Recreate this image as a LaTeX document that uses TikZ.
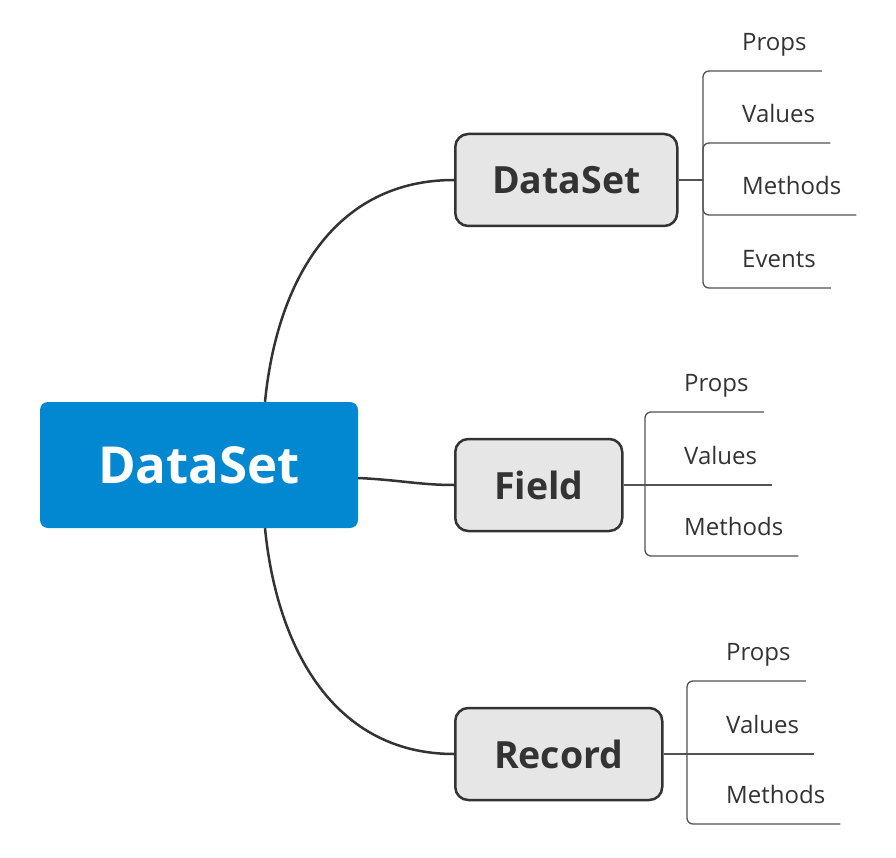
\documentclass[tikz,border=0pt]{standalone}
\usepackage{fontspec}
\setmainfont{Open Sans}
\usetikzlibrary{positioning}
\definecolor{rootblue}{RGB}{2,136,209}
\definecolor{boxgray}{RGB}{230,230,230}
\definecolor{inkgray}{RGB}{51,51,51}
\tikzset{
  root/.style={
    rectangle,rounded corners=8pt,fill=rootblue,text=white,
    minimum width=318pt,minimum height=126pt,
    font=\fontsize{51}{51}\selectfont\bfseries,
  },
  topic/.style={
    rectangle,rounded corners=13pt,draw=inkgray,line width=2.5pt,
    fill=boxgray,text=inkgray,minimum height=92pt,anchor=west,
    font=\fontsize{37.5}{37.5}\selectfont\bfseries,
  },
  leaf/.style={
    anchor=south west,inner xsep=15pt,inner ysep=15pt,
    text depth=5pt,text=inkgray,font=\fontsize{24}{24}\selectfont,
  },
  branch/.style={draw=inkgray,line width=2.5pt},
  twig/.style={draw=inkgray!85,line width=1.3pt,rounded corners=6pt},
}
\begin{document}
\begin{tikzpicture}[x=1pt,y=-1pt]
  \useasboundingbox (0,0) rectangle (896,858);

  \node[root] (root) at (199,465) {DataSet};

  \node[topic,minimum width=222pt] (ds) at (454,180) {DataSet};
  \node[topic,minimum width=167pt] (fld) at (454,485) {Field};
  \node[topic,minimum width=207pt] (rec) at (454,754) {Record};

  % branches from the root
  \draw[branch] ([xshift=66pt]root.north) .. controls (277,280) and
  (335,180) .. (ds.west);
  \draw[branch] ([yshift=-13pt]root.east) .. controls (400,480) and
  (420,485) .. (fld.west);
  \draw[branch] ([xshift=66pt]root.south) .. controls (277,650) and
  (335,754) .. (rec.west);

  % DataSet leaves
  \coordinate (dsHub) at (703,180);
  \node[leaf] (dsProps) at (727,71) {Props};
  \node[leaf] (dsValues) at (727,143) {Values};
  \node[leaf] (dsMethods) at (727,215) {Methods};
  \node[leaf] (dsEvents) at (727,288) {Events};
  \draw[twig] (ds.east) -- (dsHub);
  \draw[twig] (dsHub) |- (dsProps.south east);
  \draw[twig] (dsHub) |- (dsValues.south east);
  \draw[twig] (dsHub) |- (dsMethods.south east);
  \draw[twig] (dsHub) |- (dsEvents.south east);

  % Field leaves
  \coordinate (fldHub) at (645,485);
  \node[leaf] (fldProps) at (669,412) {Props};
  \node[leaf] (fldValues) at (669,485) {Values};
  \node[leaf] (fldMethods) at (669,556) {Methods};
  \draw[twig] (fld.east) -- (fldHub);
  \draw[twig] (fldHub) |- (fldProps.south east);
  \draw[twig] (fldHub) -- (fldValues.south east);
  \draw[twig] (fldHub) |- (fldMethods.south east);

  % Record leaves
  \coordinate (recHub) at (687,754);
  \node[leaf] (recProps) at (711,681) {Props};
  \node[leaf] (recValues) at (711,754) {Values};
  \node[leaf] (recMethods) at (711,824) {Methods};
  \draw[twig] (rec.east) -- (recHub);
  \draw[twig] (recHub) |- (recProps.south east);
  \draw[twig] (recHub) -- (recValues.south east);
  \draw[twig] (recHub) |- (recMethods.south east);

\end{tikzpicture}
\end{document}
